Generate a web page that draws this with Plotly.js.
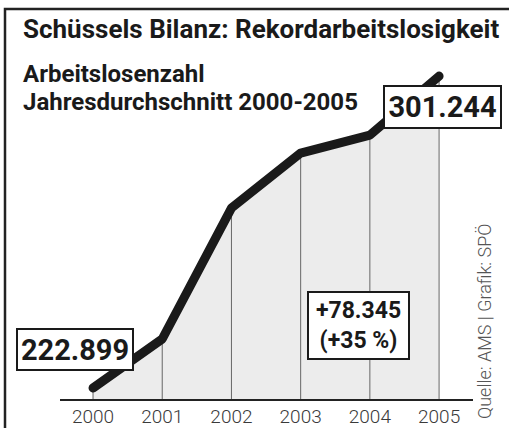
<!DOCTYPE html>
<html>
<head>
<meta charset="utf-8">
<script src="https://cdn.plot.ly/plotly-3.0.1.min.js"></script>
<style>
html,body{margin:0;padding:0;background:#fff;}
#chart{width:509px;height:428px;}
.js-line{stroke-linecap:round !important;stroke-linejoin:round !important;}
</style>
</head>
<body>
<div id="chart"></div>
<script>
// Data
const years = [2000, 2001, 2002, 2003, 2004, 2005];
const values = [222899, 235200, 268100, 281900, 286400, 301244];
const tickLabels = ['2000', '2001', '2002', '2003', '2004', '2005'];
const titleText = 'Schüssels Bilanz: Rekordarbeitslosigkeit';
const subtitle1 = 'Arbeitslosenzahl';
const subtitle2 = 'Jahresdurchschnitt 2000-2005';
const startLabel = '222.899';
const endLabel = '301.244';
const diffLabel = '+78.345<br>(+35 %)';
const sourceText = 'Quelle: AMS | Grafik: SPÖ';

// Layout geometry
const Wd = 509, Ht = 428;
const L = 60, R = 473, T = 40, B = 399;
const PW = R - L, PH = B - T;
const px = x => (x - L) / PW;
const py = y => (B - y) / PH;
const yRange = [220137, 310300];
const FONT = 'Roboto, "DejaVu Sans", sans-serif';

// vertical guide lines built from data
const vx = [], vy = [];
years.forEach((yr, i) => { vx.push(yr, yr, null); vy.push(yRange[0], values[i], null); });

const traces = [
  {x: years, y: values, type: 'scatter', mode: 'lines', fill: 'tozeroy',
   fillcolor: '#ececec', line: {width: 0, color: 'rgba(0,0,0,0)'}, hoverinfo: 'skip', showlegend: false},
  {x: vx, y: vy, type: 'scatter', mode: 'lines', line: {width: 1, color: '#666'},
   hoverinfo: 'skip', showlegend: false},
  {x: years, y: values, type: 'scatter', mode: 'lines', line: {width: 9, color: '#1a1a1a'},
   hoverinfo: 'skip', showlegend: false}
];

const boxAnn = (text, cx, cy, size, w, h, align) => ({
  text: text, xref: 'paper', yref: 'paper', x: px(cx), y: py(cy),
  xanchor: 'center', yanchor: 'middle', showarrow: false,
  font: {family: FONT, size: size, color: '#1a1a1a', weight: 700},
  bgcolor: '#fff', bordercolor: '#1a1a1a', borderwidth: 2, borderpad: 0,
  width: w, height: h, align: align || 'center'
});

const layout = {
  width: Wd, height: Ht,
  margin: {l: L, r: Wd - R, t: T, b: Ht - B, pad: 0},
  paper_bgcolor: '#fff', plot_bgcolor: '#fff',
  showlegend: false,
  xaxis: {range: [1999.523, 2005.49], tickvals: years, ticktext: tickLabels,
    showgrid: false, zeroline: false, showline: true, linecolor: '#222', linewidth: 1.5,
    ticks: '', tickfont: {family: FONT, size: 19, color: '#3a3a3a', weight: 300}, fixedrange: true},
  yaxis: {range: yRange, visible: false, showgrid: false, zeroline: false, fixedrange: true},
  shapes: [
    {type: 'path', xref: 'paper', yref: 'paper',
     path: `M ${px(5)} ${py(430)} L ${px(5)} ${py(9)} L ${px(512)} ${py(9)}`,
     line: {color: '#222', width: 2.5}}
  ],
  annotations: [
    {text: titleText, xref: 'paper', yref: 'paper', x: px(21), y: py(29), xanchor: 'left', yanchor: 'middle',
     showarrow: false, font: {family: FONT, size: 26, color: '#1a1a1a', weight: 700}},
    {text: subtitle1, xref: 'paper', yref: 'paper', x: px(21), y: py(74), xanchor: 'left', yanchor: 'middle',
     showarrow: false, font: {family: FONT, size: 24, color: '#1a1a1a', weight: 700}},
    {text: subtitle2, xref: 'paper', yref: 'paper', x: px(21), y: py(102), xanchor: 'left', yanchor: 'middle',
     showarrow: false, font: {family: FONT, size: 24, color: '#1a1a1a', weight: 700}},
    boxAnn(endLabel, 442.5, 107, 29, 115, 40),
    boxAnn(startLabel, 75, 349.5, 29, 114, 39),
    boxAnn(diffLabel, 358.5, 325.5, 23, 99, 65, 'center'),
    {text: sourceText, xref: 'paper', yref: 'paper', x: px(484), y: py(322), xanchor: 'center', yanchor: 'middle',
     textangle: -90, showarrow: false, font: {family: FONT, size: 18, color: '#555', weight: 300}}
  ]
};

Plotly.newPlot('chart', traces, layout, {staticPlot: true, displayModeBar: false});
</script>
</body>
</html>
